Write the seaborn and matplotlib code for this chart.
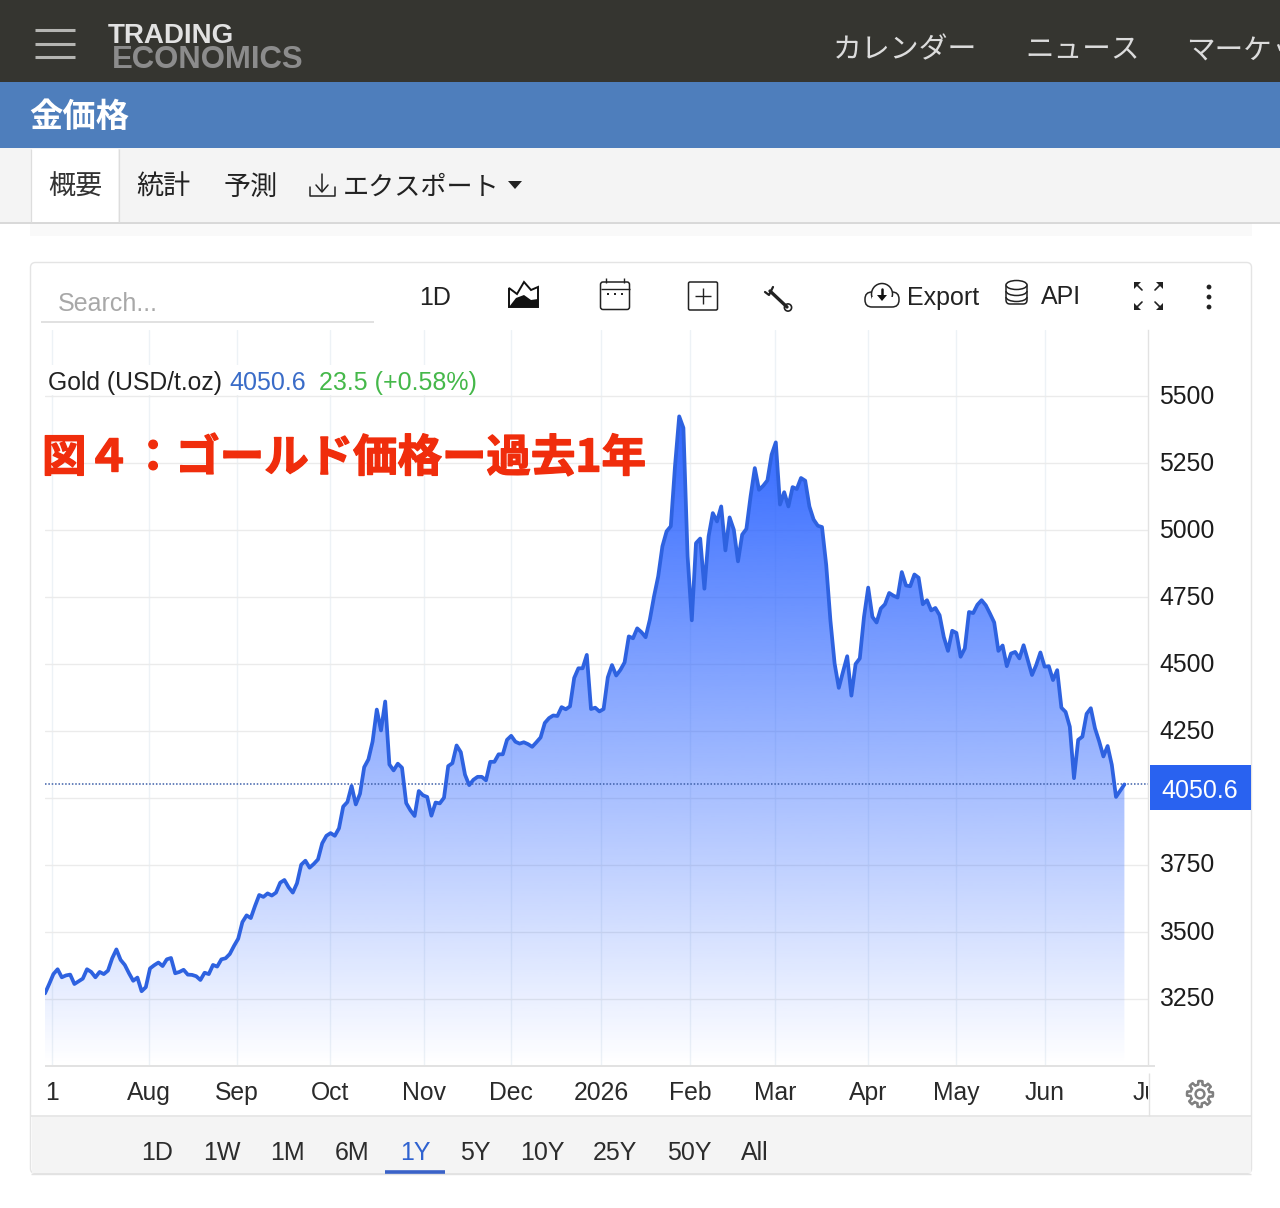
import numpy as np
import matplotlib
matplotlib.use("Agg")
import matplotlib.pyplot as plt
import matplotlib.patheffects as pe
from matplotlib.patches import Rectangle, Circle, Polygon, FancyBboxPatch, Ellipse, Arc
from matplotlib.transforms import Bbox, ScaledTranslation
import seaborn as sns

# Daily gold closes, USD per troy ounce, one value per trading session
prices = [
    3271, 3306, 3343, 3361, 3331, 3338, 3341, 3306, 3316, 3326, 3361, 3351, 3331, 3351, 3343, 3356,
    3402, 3435, 3396, 3377, 3346, 3318, 3330, 3279, 3294, 3364, 3376, 3386, 3373, 3398, 3403, 3346,
    3351, 3359, 3341, 3340, 3335, 3321, 3348, 3343, 3377, 3371, 3398, 3402, 3418, 3448, 3475, 3537,
    3562, 3552, 3597, 3638, 3631, 3644, 3636, 3647, 3684, 3694, 3667, 3647, 3682, 3751, 3766, 3740,
    3754, 3771, 3831, 3859, 3869, 3859, 3887, 3968, 3985, 4045, 3976, 4016, 4115, 4144, 4211, 4330,
    4252, 4360, 4125, 4103, 4128, 4113, 3981, 3954, 3933, 4026, 4010, 4004, 3934, 3983, 3980, 4001,
    4119, 4130, 4196, 4171, 4087, 4048, 4068, 4079, 4079, 4066, 4135, 4135, 4163, 4163, 4217, 4232,
    4210, 4203, 4208, 4201, 4191, 4208, 4226, 4280, 4298, 4308, 4306, 4339, 4331, 4342, 4448, 4484,
    4484, 4534, 4332, 4337, 4323, 4332, 4450, 4496, 4457, 4478, 4506, 4603, 4596, 4633, 4619, 4600,
    4665, 4752, 4827, 4939, 4995, 5014, 5238, 5424, 5381, 4902, 4663, 4951, 4968, 4781, 4976, 5063,
    5032, 5088, 4924, 5047, 5001, 4883, 4983, 5004, 5126, 5231, 5150, 5165, 5185, 5281, 5327, 5095,
    5141, 5088, 5160, 5153, 5194, 5184, 5088, 5039, 5016, 5011, 4870, 4663, 4502, 4411, 4471, 4529,
    4382, 4500, 4521, 4676, 4785, 4676, 4655, 4707, 4723, 4765, 4755, 4748, 4843, 4793, 4790, 4834,
    4822, 4723, 4738, 4700, 4709, 4682, 4601, 4549, 4624, 4616, 4527, 4558, 4694, 4690, 4721, 4738,
    4719, 4688, 4655, 4549, 4569, 4492, 4539, 4545, 4521, 4570, 4514, 4459, 4496, 4543, 4490, 4492,
    4440, 4477, 4337, 4321, 4266, 4074, 4217, 4229, 4314, 4335, 4260, 4211, 4155, 4194, 4124, 4004,
    4027.1, 4050.6,
]
sessions = np.arange(len(prices))

# First trading session of each month along the session axis
month_ticks = [1.7, 24.8, 45.7, 67.9, 90.2, 110.9, 132.4, 153.6, 173.8, 196.0, 216.9, 238.1, 262.6]
month_labels = ["1", "Aug", "Sep", "Oct", "Nov", "Dec", "2026", "Feb", "Mar", "Apr", "May", "Jun", "Jul"]
price_ticks = [5500, 5250, 5000, 4750, 4500, 4250, 4000, 3750, 3500, 3250]
# The 4000 level sits behind the last-price flag, so its label stays empty
price_labels = ["5500", "5250", "5000", "4750", "4500", "4250", "", "3750", "3500", "3250"]
range_buttons = ["1D", "1W", "1M", "6M", "1Y", "5Y", "10Y", "25Y", "50Y", "All"]
range_x = [157, 222, 287, 352, 415, 475, 542, 615, 689, 755]
change_abs = 23.5
change_pct = 0.58

sns.set_theme(style="white")
plt.rcParams["font.family"] = ["Liberation Sans", "Noto Sans CJK JP", "DejaVu Sans"]
CJK = ["Noto Sans CJK JP", "DejaVu Sans"]

W, H = 1280, 1208
fig = plt.figure(figsize=(W / 100, H / 100), dpi=100, facecolor="white")


def page_axes(z):
    a = fig.add_axes([0, 0, 1, 1], zorder=z)
    a.set_xlim(0, W)
    a.set_ylim(H, 0)
    a.axis("off")
    a.patch.set_alpha(0)
    return a


back = page_axes(0)
front = page_axes(2)


def box(a, x0, y0, x1, y1, color, **kw):
    a.add_patch(Rectangle((x0, y0), x1 - x0, y1 - y0, facecolor=color, edgecolor="none", **kw))


def hline(a, x0, x1, y, color, lw=1.0):
    a.plot([x0, x1], [y, y], color=color, lw=lw, solid_capstyle="butt")


def vline(a, x, y0, y1, color, lw=1.0):
    a.plot([x, x], [y0, y1], color=color, lw=lw, solid_capstyle="butt")


# Site header and page title
box(back, 0, 0, W, 82, "#353530")
box(back, 0, 82, W, 148, "#4e7ebc")
box(back, 0, 148, W, 222, "#f4f4f4")
hline(back, 0, W, 222.5, "#d2d2d2", 1.2)
box(back, 30, 223, 1252, 236, "#f9f9f9")
box(back, 31, 149, 118, 222, "#ffffff")
vline(back, 31, 149, 222, "#dddddd", 0.9)
vline(back, 118.5, 149, 222, "#dddddd", 0.9)
for y in (30, 43.5, 57):
    hline(back, 35, 75, y, "#b5b5b2", 2.2)
back.text(108, 36, "TRADING", color="#e2e2e2", fontsize=20, fontweight="bold", va="center", ha="left")
back.text(112, 60.5, "ECONOMICS", color="#8c8c8c", fontsize=22.4, fontweight="bold", va="center", ha="left")
back.text(833, 50.5, "カレンダー", color="#dcdcdc", fontsize=20.8, family=CJK, va="center")
back.text(1025, 50.5, "ニュース", color="#dcdcdc", fontsize=20.6, family=CJK, va="center")
back.text(1186, 50.5, "マーケット", color="#dcdcdc", fontsize=20.6, family=CJK, va="center", clip_on=True)
back.text(29, 117, "金価格", color="white", fontsize=24, fontweight="bold", family=CJK, va="center")
back.text(48, 187.5, "概要", color="#333333", fontsize=19.5, family=CJK, va="center")
back.text(136, 187.5, "統計", color="#222222", fontsize=19.5, family=CJK, va="center")
back.text(224, 187.5, "予測", color="#222222", fontsize=19.5, family=CJK, va="center")
back.text(343, 187.5, "エクスポート", color="#222222", fontsize=18.8, family=CJK, va="center")
back.add_patch(Polygon([(508, 181), (522, 181), (515, 189)], facecolor="#222222", edgecolor="none"))
# Download glyph
back.plot([322, 322], [174, 191], color="#222222", lw=1.1)
back.plot([316, 322, 328], [185, 192, 185], color="#222222", lw=1.1)
back.plot([309.5, 309.5, 334.5, 334.5], [187, 196, 196, 187], color="#222222", lw=1.1)

# Chart card
back.add_patch(FancyBboxPatch((30.5, 262.5), 1221, 911, boxstyle="round,pad=0,rounding_size=5",
                              facecolor="white", edgecolor="#e4e4e4", lw=1.0))
box(back, 31.5, 1116, 1251, 1173, "#f4f4f4")
hline(back, 31, 1251, 1116, "#e6e6e6", 1.3)
hline(back, 31, 1251, 1174, "#e2e2e2", 1.0)
hline(back, 385, 445, 1171.5, "#3a62c8", 2.6)
for lab, x in zip(range_buttons, range_x):
    back.text(x, 1153, lab, color="#2f62d0" if lab == "1Y" else "#2c2c2c", fontsize=18, ha="center", va="center")

# Toolbar
back.text(58, 304, "Search...", color="#a8a8a8", fontsize=18, va="center")
hline(back, 41, 374, 321.5, "#dcdcdc", 1.2)
back.text(419, 298, "1D", color="#222222", fontsize=18, va="center")
back.add_patch(Polygon([(509, 307), (509, 288), (517, 294), (524, 282), (531, 290), (538, 287), (538, 307)],
                       facecolor="white", edgecolor="#111111", lw=1.4))
back.add_patch(Polygon([(509, 307), (516, 298), (524, 295), (531, 300), (538, 299), (538, 307)],
                       facecolor="#111111", edgecolor="none"))
back.add_patch(FancyBboxPatch((600.5, 282), 29, 27.5, boxstyle="round,pad=0,rounding_size=2.5",
                              facecolor="white", edgecolor="#222222", lw=1.1))
hline(back, 601, 630, 289, "#222222", 1.0)
for x in (606, 624):
    vline(back, x, 278, 283, "#222222", 1.0)
for x in (608, 615, 622):
    back.add_patch(Rectangle((x - 1, 293), 2.2, 2.2, facecolor="#222222", edgecolor="none"))
back.add_patch(FancyBboxPatch((688.5, 282), 29, 28, boxstyle="round,pad=0,rounding_size=1.5",
                              facecolor="white", edgecolor="#222222", lw=1.1))
hline(back, 695, 711, 296, "#222222", 1.0)
vline(back, 703, 288, 304, "#222222", 1.0)
back.plot([770, 787], [291, 307], color="#222222", lw=2.4, solid_capstyle="round")
back.plot([765, 769, 773], [292, 295, 287], color="#222222", lw=1.6)
back.add_patch(Circle((788, 307.5), 3.6, facecolor="white", edgecolor="#222222", lw=1.2))
# Cloud glyph
back.add_patch(FancyBboxPatch((865, 292), 34, 15, boxstyle="round,pad=0,rounding_size=7",
                              facecolor="white", edgecolor="#222222", lw=1.1))
back.add_patch(Circle((882, 294), 10.5, facecolor="white", edgecolor="#222222", lw=1.1))
box(back, 872, 297, 894, 306, "white", zorder=3)
back.plot([882, 882], [289, 296], color="#111111", lw=1.8, zorder=4)
back.add_patch(Polygon([(877, 295), (887, 295), (882, 301)], facecolor="#111111", edgecolor="none", zorder=4))
back.text(907, 298, "Export", color="#222222", fontsize=18, va="center")
# Database glyph
back.add_patch(FancyBboxPatch((1006, 283), 21, 21, boxstyle="round,pad=0,rounding_size=4",
                              facecolor="white", edgecolor="#222222", lw=1.1))
back.add_patch(Ellipse((1016.5, 285), 21, 9, facecolor="white", edgecolor="#222222", lw=1.1))
for y in (291, 297):
    back.add_patch(Arc((1016.5, y), 21, 9, theta1=0, theta2=180, edgecolor="#222222", lw=1.1))
back.text(1041, 297, "API", color="#222222", fontsize=18, va="center")
# Fullscreen arrows
for cx, cy, sx, sy in [(1138, 286, 1, 1), (1159, 286, -1, 1), (1138, 306, 1, -1), (1159, 306, -1, -1)]:
    back.add_patch(Polygon([(cx - 4 * sx, cy - 4 * sy), (cx + 3 * sx, cy - 4 * sy), (cx - 4 * sx, cy + 3 * sy)],
                           facecolor="#222222", edgecolor="none"))
    back.plot([cx - 2 * sx, cx + 4 * sx], [cy - 2 * sy, cy + 4 * sy], color="#222222", lw=1.2)
for y in (287, 297, 307):
    back.add_patch(Circle((1209, y), 2.4, facecolor="#222222", edgecolor="none"))

# Settings gear
ang = np.linspace(0, 2 * np.pi, 97)[:-1]
rad = 9.5 + 3.5 * (np.cos(8 * ang) > 0)
back.add_patch(Polygon(np.c_[1200 + rad * np.cos(ang), 1094 + rad * np.sin(ang)],
                       facecolor="white", edgecolor="#808080", lw=1.8, joinstyle="round"))
back.add_patch(Circle((1200, 1094), 4.4, facecolor="white", edgecolor="#808080", lw=1.8))

# Axis frame beyond the plot area
hline(back, 45, 1155, 1065.5, "#dddddd", 1.2)
vline(back, 1148.5, 1073, 1116, "#e2e2e2", 1.0)

# Price chart, placed on the page by pixel bounds
left, right, top, bottom = 45, 1148, 330, 1065
ax = fig.add_axes([left / W, (H - bottom) / H, (right - left) / W, (bottom - top) / H], zorder=1)
ax.patch.set_alpha(0)
value_per_px = 250 / 67
y_low = 5500 - (bottom - 396) * value_per_px
y_high = 5500 + (396 - top) * value_per_px
ax.set_xlim(0, (right - left) / 4.2)
ax.set_ylim(y_low, y_high)

ax.set_axisbelow(True)
ax.set_yticks(price_ticks)
ax.set_yticklabels(price_labels)
ax.set_xticks(month_ticks)
ax.set_xticklabels(month_labels)
ax.yaxis.tick_right()
ax.tick_params(axis="y", length=0, pad=8, labelsize=17.8, labelcolor="#1c1c1c")
ax.tick_params(axis="x", length=0, pad=11.5, labelsize=17.8, labelcolor="#2a2a2a")
ax.yaxis.grid(True, color="#ebebeb", lw=1.0)
ax.xaxis.grid(True, color="#edf2f6", lw=1.0)
ax.xaxis.get_gridlines()[-1].set_visible(False)
for s in ("top", "left", "bottom"):
    ax.spines[s].set_visible(False)
ax.spines["right"].set_color("#e2e2e2")
ax.spines["right"].set_linewidth(1.0)

# Price labels sit slightly above their gridlines
lift = ScaledTranslation(0, 2 / 100, fig.dpi_scale_trans)
for lab in ax.get_yticklabels():
    lab.set_transform(lab.get_transform() + lift)

# The final month label runs off the plot's right edge and is cut there
last_label = ax.get_xticklabels()[-1]
last_label.set_clip_box(Bbox([[0, 0], [right, H]]))
last_label.set_clip_on(True)

# Vertical gradient under the price line, solid at the peak and fading to the base
base_rgb = matplotlib.colors.to_rgb("#2962ff")
peak = max(prices)
grad = np.zeros((256, 1, 4))
grad[..., :3] = base_rgb
grad[:, 0, 3] = np.linspace(0.97, 0.0, 256)
under = ax.fill_between(sessions, prices, y_low, facecolor="none", edgecolor="none")
image = ax.imshow(grad, extent=(0, len(prices) - 1, y_low, peak), aspect="auto", origin="upper",
                  zorder=1.5, interpolation="bilinear")
image.set_clip_path(under.get_paths()[0], transform=ax.transData)
ax.set_xlim(0, (right - left) / 4.2)
ax.set_ylim(y_low, y_high)

sns.lineplot(x=sessions, y=prices, ax=ax, color="#2e62e0", linewidth=2.7, errorbar=None,
             estimator=None, zorder=3, solid_joinstyle="round")
ax.axhline(prices[-1], color="#3d5fa8", lw=1.1, ls=(0, (1, 1.2)), zorder=2.5)
ax.set_xlabel("")
ax.set_ylabel("")

# Legend strip above the plot
box(front, 45, 365, 486, 395, "white")
front.text(48, 383, "Gold (USD/t.oz)", color="#222222", fontsize=17.8, va="center")
front.text(229, 383, f"{prices[-1]:.1f}", color="#3a6cc8", fontsize=18, va="center")
front.text(319, 383, f"{change_abs} (+{change_pct}%)", color="#45b84a", fontsize=18, va="center")

# Last-price flag
box(front, 1150, 765, 1251, 810, "#2962f0")
front.text(1200, 791, f"{prices[-1]:.1f}", color="white", fontsize=18, ha="center", va="center")

# Red caption over the chart
front.text(42, 458.5, "図４：ゴールド価格ー過去1年", color="#f02d0c", fontsize=32, fontweight="bold",
           family=CJK, va="center", ha="left",
           path_effects=[pe.withStroke(linewidth=1.0, foreground="#f02d0c")])

fig.savefig("out.png", dpi=100)
